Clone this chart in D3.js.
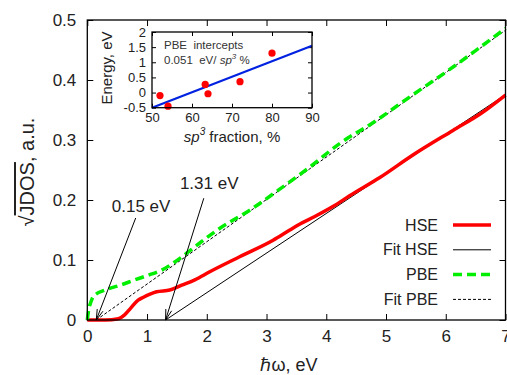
<!DOCTYPE html>
<html>
<head>
<meta charset="utf-8">
<script src="https://cdn.jsdelivr.net/npm/d3@7"></script>
<style>
  body { margin: 0; background: #fff; }
  svg { display: block; font-family: "Liberation Sans", Arial, sans-serif; }
</style>
</head>
<body>
<script>
(function () {
  var svg, x, y, ix, iy, line, ifit, slope, icept, mx, my;

  // main curves (photon energy, eV -> sqrt(JDOS))
  var hseX = [0, 0.3, 0.52, 0.62, 0.72, 0.85, 0.94, 1.05, 1.16, 1.38, 1.58, 1.8, 2.05, 2.55, 3.11, 3.39, 3.56, 3.8, 4.11, 4.39, 4.89, 5.45, 6.12, 6.6, 7];
  var hseY = [0, 0, 0.002, 0.008, 0.019, 0.033, 0.038, 0.043, 0.047, 0.05, 0.058, 0.067, 0.0805, 0.1055, 0.133, 0.15, 0.16, 0.172, 0.189, 0.207, 0.237, 0.275, 0.316, 0.345, 0.375];
  var pbeX = [0, 0.02, 0.06, 0.1, 0.3, 0.55, 0.8, 1.0, 1.24, 1.58, 1.8, 2.22, 2.72, 3.22, 3.7, 4.23, 4.8, 5.4, 6, 6.5, 7];
  var pbeY = [0, 0.015, 0.03, 0.039, 0.05, 0.058, 0.067, 0.074, 0.083, 0.105, 0.122, 0.153, 0.183, 0.218, 0.253, 0.2945, 0.33, 0.372, 0.413, 0.449, 0.486];

  // linear fits: gap (x intercept) and slope
  var fitGap = { hse: 1.31, pbe: 0.15 };
  var fitSlope = { hse: 0.066, pbe: 0.0705 };

  var xTicks = [0, 1, 2, 3, 4, 5, 6, 7];
  var yTicks = [0, 0.1, 0.2, 0.3, 0.4, 0.5];

  // inset: PBE intercepts vs sp3 fraction
  var sp3 = [52, 54, 63.3, 64, 72, 80];
  var energy = [-0.1, -0.45, 0.27, -0.04, 0.36, 1.3];
  var ixTicks = [50, 60, 70, 80, 90];
  var iyTicks = [-0.5, 0, 0.5, 1, 1.5, 2];

  // arrows: tail and label position in data units, tips sit on the gaps
  var arrows = [
    { label: '0.15 eV', tip: fitGap.pbe, tail: [0.81, 0.17], text: [0.41, 0.18] },
    { label: '1.31 eV', tip: fitGap.hse, tail: [1.95, 0.203], text: [1.55, 0.218] }
  ];

  svg = d3.select('body').append('svg')
    .attr('width', 507)
    .attr('height', 375);

  x = d3.scaleLinear().domain([0, 7]).range([87.3, 505.5]);
  y = d3.scaleLinear().domain([0, 0.5]).range([320, 20]);

  function zip(a, b) {
    return a.map(function (v, i) { return [v, b[i]]; });
  }

  // axes with inward ticks
  svg.append('g').attr('transform', 'translate(0,320)')
    .call(d3.axisBottom(x).tickValues(xTicks).tickSize(-6).tickPadding(10).tickFormat(d3.format('d')))
    .call(function (g) { g.select('.domain').remove(); g.selectAll('text').attr('font-size', 17).attr('fill', '#222'); });
  svg.append('g').attr('transform', 'translate(0,20)')
    .call(d3.axisTop(x).tickValues(xTicks).tickSize(-6).tickFormat(''))
    .call(function (g) { g.select('.domain').remove(); });
  svg.append('g').attr('transform', 'translate(87.3,0)')
    .call(d3.axisLeft(y).tickValues(yTicks).tickSize(-6).tickPadding(11).tickFormat(function (d) { return d === 0 ? '0' : d3.format('.1f')(d); }))
    .call(function (g) { g.select('.domain').remove(); g.selectAll('text').attr('font-size', 17).attr('fill', '#222'); });
  svg.append('g').attr('transform', 'translate(505.5,0)')
    .call(d3.axisRight(y).tickValues(yTicks).tickSize(-6).tickFormat(''))
    .call(function (g) { g.select('.domain').remove(); });

  line = d3.line()
    .x(function (d) { return x(d[0]); })
    .y(function (d) { return y(d[1]); });

  // fits
  svg.append('path')
    .datum([[fitGap.hse, 0], [7, fitSlope.hse * (7 - fitGap.hse)]])
    .attr('d', line)
    .attr('fill', 'none').attr('stroke', '#000').attr('stroke-width', 1);
  svg.append('path')
    .datum([[fitGap.pbe, 0], [7, fitSlope.pbe * (7 - fitGap.pbe)]])
    .attr('d', line)
    .attr('fill', 'none').attr('stroke', '#000').attr('stroke-width', 1)
    .attr('stroke-dasharray', '3,2');

  // curves
  svg.append('path')
    .datum(zip(hseX, hseY))
    .attr('d', line.curve(d3.curveMonotoneX))
    .attr('fill', 'none').attr('stroke', '#ff0000').attr('stroke-width', 3.5);
  svg.append('path')
    .datum(zip(pbeX, pbeY))
    .attr('d', line.curve(d3.curveMonotoneX))
    .attr('fill', 'none').attr('stroke', '#00ee00').attr('stroke-width', 3.5)
    .attr('stroke-dasharray', '9,5');
  line.curve(d3.curveLinear);

  // arrows with open heads
  arrows.forEach(function (a) {
    var x1 = x(a.tail[0]), y1 = y(a.tail[1]), x2 = x(a.tip), y2 = y(0);
    var ang = Math.atan2(y2 - y1, x2 - x1), len = 11, spread = 0.28;
    svg.append('line')
      .attr('x1', x1).attr('y1', y1).attr('x2', x2).attr('y2', y2)
      .attr('stroke', '#000').attr('stroke-width', 1);
    svg.append('path')
      .attr('d', 'M' + (x2 - len * Math.cos(ang - spread)) + ',' + (y2 - len * Math.sin(ang - spread)) +
        'L' + x2 + ',' + y2 +
        'L' + (x2 - len * Math.cos(ang + spread)) + ',' + (y2 - len * Math.sin(ang + spread)))
      .attr('fill', 'none').attr('stroke', '#000').attr('stroke-width', 1);
    svg.append('text')
      .attr('x', x(a.text[0])).attr('y', y(a.text[1]))
      .attr('font-size', 17).attr('fill', '#222')
      .text(a.label);
  });

  // frame
  svg.append('rect')
    .attr('x', 87.3).attr('y', 20).attr('width', 505.5 - 87.3).attr('height', 300)
    .attr('fill', 'none').attr('stroke', '#000').attr('stroke-width', 1.3);

  // legend
  var legend = [
    { name: 'HSE', color: '#ff0000', width: 3.5, dash: null },
    { name: 'Fit HSE', color: '#000', width: 1, dash: null },
    { name: 'PBE', color: '#00ee00', width: 3.5, dash: '9,5' },
    { name: 'Fit PBE', color: '#000', width: 1, dash: '3,2' }
  ];
  var lg = svg.selectAll('g.leg').data(legend).enter().append('g')
    .attr('class', 'leg')
    .attr('transform', function (d, i) { return 'translate(0,' + (225 + i * 24.8) + ')'; });
  lg.append('text')
    .attr('x', 438).attr('dy', '0.35em').attr('text-anchor', 'end')
    .attr('font-size', 16).attr('fill', '#222')
    .text(function (d) { return d.name; });
  lg.append('line')
    .attr('x1', 453).attr('x2', 491)
    .attr('stroke', function (d) { return d.color; })
    .attr('stroke-width', function (d) { return d.width; })
    .attr('stroke-dasharray', function (d) { return d.dash; });

  // axis titles
  var yl = svg.append('text')
    .attr('transform', 'translate(34,172) rotate(-90)')
    .attr('text-anchor', 'middle')
    .attr('font-size', 20).attr('fill', '#222');
  yl.append('tspan').text('\u221A');
  yl.append('tspan').style('text-decoration', 'overline').text('JDOS');
  yl.append('tspan').text(', a.u.');

  svg.append('text')
    .attr('x', 289).attr('y', 371)
    .attr('text-anchor', 'middle')
    .attr('font-size', 18).attr('fill', '#222')
    .text('\u210Fω, eV');

  // ---- inset ----
  ix = d3.scaleLinear().domain([50, 90]).range([152, 312]);
  iy = d3.scaleLinear().domain([-0.5, 2]).range([107.7, 32]);

  svg.append('rect')
    .attr('x', 152).attr('y', 32).attr('width', 160).attr('height', 75.7)
    .attr('fill', '#fff');

  svg.append('g').attr('transform', 'translate(0,107.7)')
    .call(d3.axisBottom(ix).tickValues(ixTicks).tickSize(-4).tickPadding(5))
    .call(function (g) { g.select('.domain').remove(); g.selectAll('text').attr('font-size', 13).attr('fill', '#222'); });
  svg.append('g').attr('transform', 'translate(0,32)')
    .call(d3.axisTop(ix).tickValues(ixTicks).tickSize(-4).tickFormat(''))
    .call(function (g) { g.select('.domain').remove(); });
  svg.append('g').attr('transform', 'translate(152,0)')
    .call(d3.axisLeft(iy).tickValues(iyTicks).tickSize(-4).tickPadding(6).tickFormat(function (d) { return String(d); }))
    .call(function (g) { g.select('.domain').remove(); g.selectAll('text').attr('font-size', 13).attr('fill', '#222'); });
  svg.append('g').attr('transform', 'translate(312,0)')
    .call(d3.axisRight(iy).tickValues(iyTicks).tickSize(-4).tickFormat(''))
    .call(function (g) { g.select('.domain').remove(); });

  // least squares fit of the intercepts
  mx = d3.mean(sp3);
  my = d3.mean(energy);
  slope = d3.sum(sp3, function (v, i) { return (v - mx) * (energy[i] - my); }) /
    d3.sum(sp3, function (v) { return (v - mx) * (v - mx); });
  icept = my - slope * mx;
  ifit = d3.line()
    .x(function (d) { return ix(d); })
    .y(function (d) { return iy(slope * d + icept); });

  svg.append('path')
    .datum(ix.domain())
    .attr('d', ifit)
    .attr('fill', 'none').attr('stroke', '#0022e0').attr('stroke-width', 2.2);

  svg.selectAll('circle.pt').data(zip(sp3, energy)).enter().append('circle')
    .attr('class', 'pt')
    .attr('cx', function (d) { return ix(d[0]); })
    .attr('cy', function (d) { return iy(d[1]); })
    .attr('r', 3.6)
    .attr('fill', '#ff0000');

  svg.append('rect')
    .attr('x', 152).attr('y', 32).attr('width', 160).attr('height', 75.7)
    .attr('fill', 'none').attr('stroke', '#000').attr('stroke-width', 1.3);

  svg.append('text')
    .attr('x', 164).attr('y', 49)
    .attr('font-size', 11.5).attr('fill', '#333')
    .style('white-space', 'pre')
    .text('PBE  intercepts');
  var t2 = svg.append('text')
    .attr('x', 164).attr('y', 64)
    .attr('font-size', 11.5).attr('fill', '#333')
    .style('white-space', 'pre');
  t2.append('tspan').text(d3.format('.3f')(slope) + '  eV/ ');
  t2.append('tspan').attr('font-style', 'italic').text('sp');
  t2.append('tspan').attr('font-style', 'italic').attr('font-size', 8).attr('dy', -5).text('3');
  t2.append('tspan').attr('dy', 5).text(' %');

  svg.append('text')
    .attr('transform', 'translate(112,68) rotate(-90)')
    .attr('text-anchor', 'middle')
    .attr('font-size', 15).attr('fill', '#222')
    .text('Energy, eV');

  var xl = svg.append('text')
    .attr('x', 232).attr('y', 142)
    .attr('text-anchor', 'middle')
    .attr('font-size', 15).attr('fill', '#222');
  xl.append('tspan').attr('font-style', 'italic').text('sp');
  xl.append('tspan').attr('font-style', 'italic').attr('font-size', 10).attr('dy', -7).text('3');
  xl.append('tspan').attr('dy', 7).text(' fraction, %');
}());
</script>
</body>
</html>
